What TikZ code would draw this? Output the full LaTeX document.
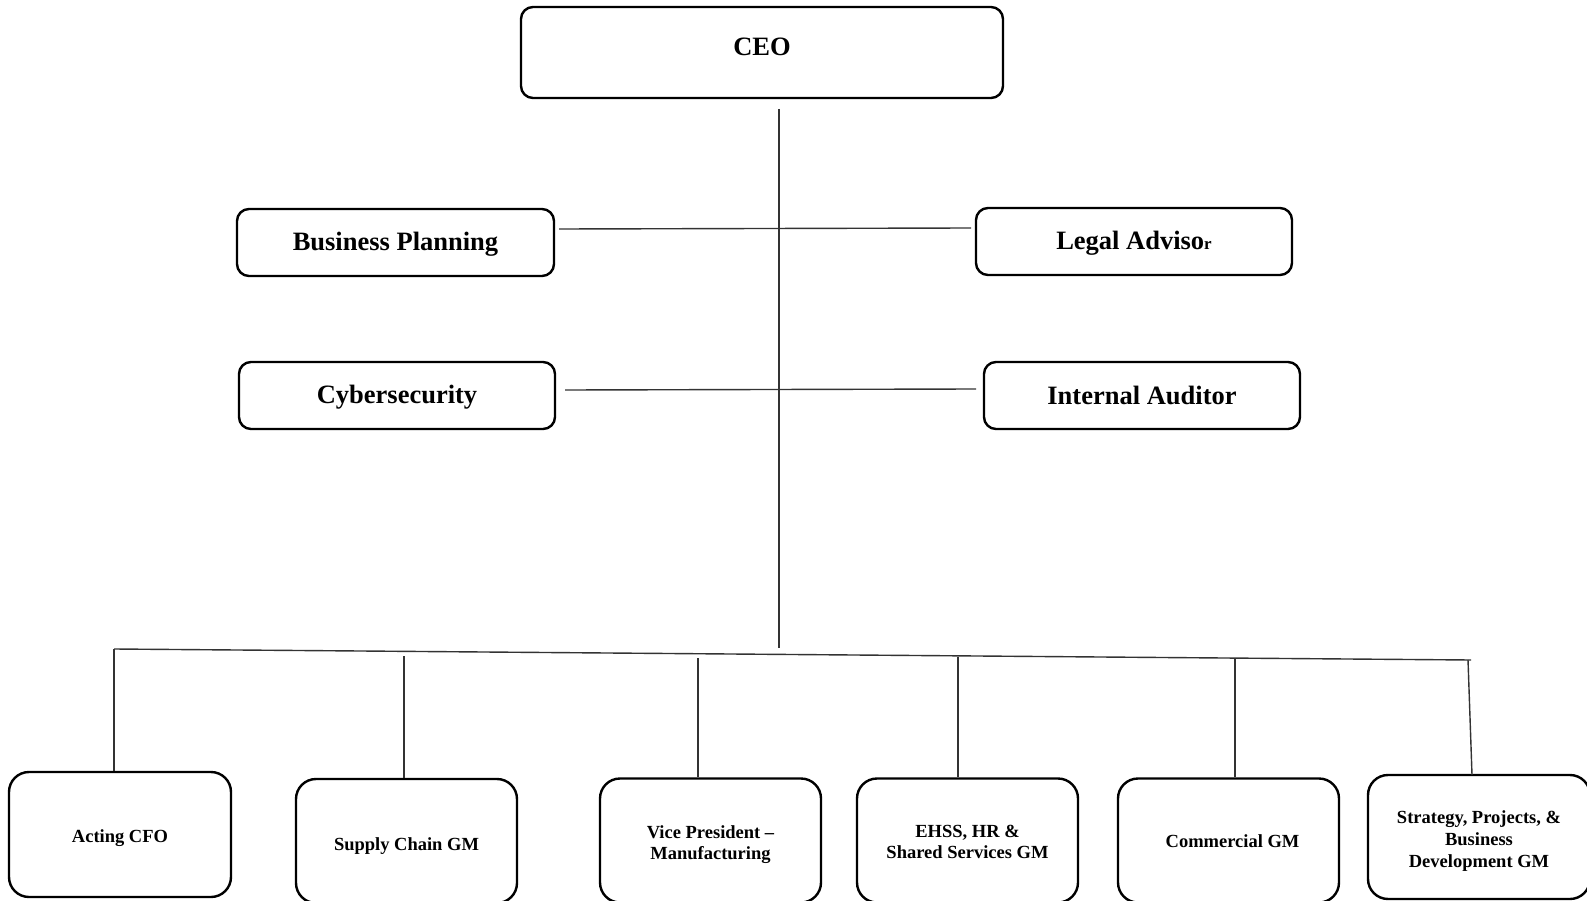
\documentclass[tikz,border=0pt]{standalone}
\usepackage{fontspec}
\setmainfont{Liberation Serif}
\newcommand{\lowerby}[1]{\rule{0pt}{#1}}
\begin{document}
\begin{tikzpicture}[x=1pt,y=-1pt,
  topbox/.style={draw=black, line width=2.4pt, rounded corners=12pt, inner sep=0pt,
    font=\bfseries\fontsize{26.5}{30}\selectfont, align=center},
  lowbox/.style={draw=black, line width=2.4pt, rounded corners=20pt, inner sep=0pt,
    minimum width=221pt, minimum height=124pt,
    font=\bfseries\fontsize{18.5}{21}\selectfont, align=center},
  link/.style={draw=black!80, line width=1.4pt}]
\useasboundingbox (0,0) rectangle (1587,901);
\clip (0,0) rectangle (1587,901);

% top boxes
\node[topbox, minimum width=482pt, minimum height=91pt, text height=22pt, text depth=15pt] (ceo) at (762,52.5) {CEO};
\node[topbox, minimum width=317pt, minimum height=67pt] (bp) at (395.5,242.5) {\lowerby{22pt}Business Planning};
\node[topbox, minimum width=316pt, minimum height=67pt] (la) at (1134,241.5) {\lowerby{22pt}Legal Adviso{\fontsize{17}{20}\selectfont r}};
\node[topbox, minimum width=316pt, minimum height=67pt] (cs) at (397,395.5) {\lowerby{22pt}Cybersecurity};
\node[topbox, minimum width=316pt, minimum height=67pt] (ia) at (1142,395.5) {Internal Auditor};

% bottom boxes
\node[lowbox, minimum width=222pt, minimum height=125pt] (cfo) at (120,834.5) {\lowerby{20.6pt}Acting CFO};
\node[lowbox] (sc) at (406.5,841) {\lowerby{22.6pt}Supply Chain GM};
\node[lowbox] (vp) at (710.5,840.5) {\lowerby{20.6pt}Vice President --\\Manufacturing};
\node[lowbox] (ehss) at (967.5,840.5) {\lowerby{14.6pt}EHSS, HR \&\\Shared Services GM};
\node[lowbox] (com) at (1228.5,840.5) {\lowerby{14.6pt}\hspace*{8pt}Commercial GM};
\node[lowbox, minimum width=222pt, font=\bfseries\fontsize{18.5}{22}\selectfont] (str) at (1479,837) {\lowerby{20.6pt}Strategy, Projects, \&\\Business\\Development GM};

% connector points
\coordinate (vtop) at (779,109);
\coordinate (vbot) at (779,648);
\coordinate (h1a) at (559,229);
\coordinate (h1b) at (971,228);
\coordinate (h2a) at (565,390);
\coordinate (h2b) at (976,389);
\coordinate (busL) at (114,649);
\coordinate (busR) at (1471,660);
\coordinate (d2) at (404,656);
\coordinate (d3) at (698,658);
\coordinate (d4) at (958,657);
\coordinate (d5) at (1235,658);
\coordinate (d6) at (1468,660);

% connectors
\draw[link] (vtop) -- (vbot);
\draw[link] (h1a) -- (h1b);
\draw[link] (h2a) -- (h2b);
\draw[link] (busL) -- (busR);
\draw[link] (busL) -- (busL |- cfo.north);
\draw[link] (d2) -- (d2 |- sc.north);
\draw[link] (d3) -- (d3 |- vp.north);
\draw[link] (d4) -- (d4 |- ehss.north);
\draw[link] (d5) -- (d5 |- com.north);
\draw[link] (d6) -- (1472,775);
\end{tikzpicture}
\end{document}
